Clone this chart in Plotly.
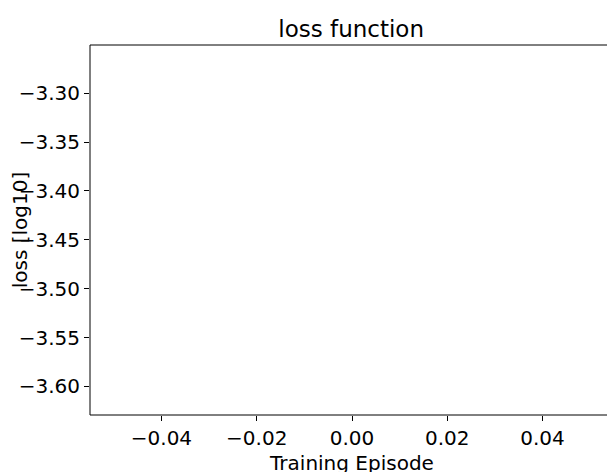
import plotly.graph_objects as go

episodes = [0]
loss_log10 = [-3.44]

v = loss_log10[0]
d = 0.05 * abs(v)
lo, hi = v - d, v + d
m = 0.05 * (hi - lo)
yr = [lo - m, hi + m]

fig = go.Figure(go.Scatter(x=episodes, y=loss_log10, mode="lines", line=dict(color="#1f77b4")))
axis_common = dict(showgrid=False, zeroline=False, showline=False, automargin=False,
                   ticks="outside", ticklen=5, tickcolor="black", tickfont=dict(size=20, color="black"),
                   tickformat=".2f")
fig.update_layout(
    width=615, height=472, plot_bgcolor="white", paper_bgcolor="white",
    font=dict(family="DejaVu Sans", color="black"),
    margin=dict(l=82, r=9, t=37, b=65, autoexpand=False),
    title=dict(text="loss function", x=0.558, xanchor="center", y=0.955, yanchor="middle", font=dict(size=23)),
    showlegend=False,
    xaxis=dict(range=[-0.055, 0.055], dtick=0.02, tick0=0,
               title=dict(text="Training Episode", font=dict(size=20), standoff=6), **axis_common),
    yaxis=dict(range=yr, dtick=0.05, tick0=-3.3,
               title=dict(text="loss [log10]", font=dict(size=20), standoff=10), **axis_common),
    shapes=[dict(type="rect", xref="paper", yref="paper", x0=0, y0=0, x1=1, y1=1,
                 line=dict(color="black", width=1))],
)
fig.write_html("out.html")
